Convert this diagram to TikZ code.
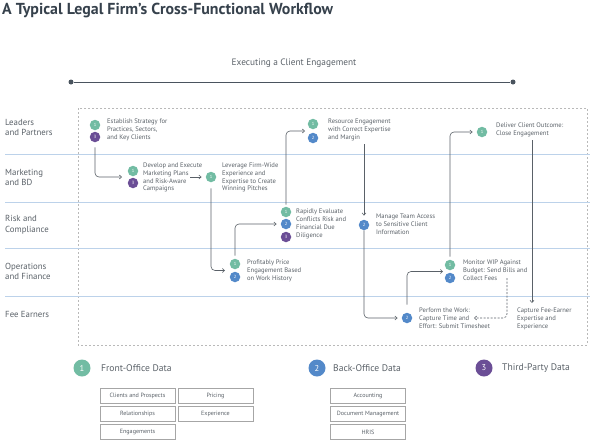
\documentclass[tikz,border=0pt]{standalone}
\usepackage{fontspec}
\setmainfont{PT Sans}
\usetikzlibrary{arrows.meta, positioning, calc}
\definecolor{frontgreen}{HTML}{72BCA3}
\definecolor{backblue}{HTML}{5389C9}
\definecolor{thirdpurple}{HTML}{6B4E96}
\definecolor{lanerule}{HTML}{BCD2EA}
\definecolor{inkgray}{HTML}{5A6168}
\definecolor{titleink}{HTML}{36414C}

\begin{document}
\begin{tikzpicture}[x=1pt, y=-1pt, every node/.style={font=\fontsize{6.6}{7.9}\selectfont, text=inkgray}]
\tikzstyle{badge} = [circle, inner sep=0pt, minimum size=10.5pt, text=white, font=\fontsize{4.5}{5}\selectfont]
\tikzstyle{stepbox} = [anchor=west, align=left, inner sep=0pt]
\tikzstyle{lane} = [anchor=west, align=left, inner sep=0pt, font=\fontsize{8.8}{10.8}\selectfont]
\tikzstyle{flow} = [-{Straight Barb[length=2.2pt, width=4pt]}, draw=inkgray, line width=0.6pt, rounded corners=4pt]
\tikzstyle{source} = [draw=gray!70, line width=0.8pt, minimum width=75pt, minimum height=15pt, inner sep=0pt, font=\fontsize{6.1}{7}\selectfont]
\tikzstyle{keybadge} = [circle, inner sep=0pt, minimum size=17pt, text=white, font=\fontsize{8.5}{9}\selectfont]
\tikzstyle{keytext} = [anchor=west, inner sep=0pt, font=\fontsize{9.6}{11}\selectfont]
\useasboundingbox (0,0) rectangle (594,440);

% Title and timeline
\node[anchor=base west, inner sep=0pt, text=titleink, font=\fontsize{15.9}{18}\selectfont\bfseries] (title) at (2,14) {A Typical Legal Firm’s Cross-Functional Workflow};
\node[inner sep=0pt, font=\fontsize{9.3}{10}\selectfont] (phase) at (294,63) {Executing a Client Engagement};
\node[circle, fill=titleink!90, inner sep=0pt, minimum size=5pt] (tstart) at (71,82) {};
\node[circle, fill=titleink!90, inner sep=0pt, minimum size=5pt] (tend) at (513,82) {};
\draw[titleink!90, line width=1pt] (tstart) -- (tend);

% Lanes
\draw[gray!55, line width=0.8pt, dash pattern=on 2pt off 2pt] (78,108) rectangle (587,345);
\foreach \y in {154,202,248,296}
  \draw[lanerule, line width=0.8pt] (5,\y) -- (590,\y);
\node[lane] (leaders) at (5,127.5) {Leaders\\and Partners};
\node[lane] (marketing) at (5,177.5) {Marketing\\and BD};
\node[lane] (risk) at (5,224.5) {Risk and\\Compliance};
\node[lane] (operations) at (5,271.5) {Operations\\and Finance};
\node[lane] (earners) at (5,314) {Fee Earners};

% Nodes
\node[badge, fill=frontgreen] (s1a) at (95,125) {1};
\node[badge, fill=thirdpurple] (s1b) at (95,137) {3};
\node[stepbox] (t1) at (107,130) {Establish Strategy for\\Practices, Sectors,\\and Key Clients};

\node[badge, fill=frontgreen] (s2a) at (133,171) {1};
\node[badge, fill=thirdpurple] (s2b) at (133,183) {3};
\node[stepbox] (t2) at (143,177.5) {Develop and Execute\\Marketing Plans\\and Risk-Aware\\Campaigns};

\node[badge, fill=frontgreen] (s3a) at (211,177) {1};
\node[stepbox] (t3) at (222,177.5) {Leverage Firm-Wide\\Experience and\\Expertise to Create\\Winning Pitches};

\node[badge, fill=frontgreen] (s4a) at (235,264) {1};
\node[badge, fill=backblue] (s4b) at (235,277) {2};
\node[stepbox] (t4) at (247,271) {Profitably Price\\Engagement Based\\on Work History};

\node[badge, fill=frontgreen] (s5a) at (286,212) {1};
\node[badge, fill=backblue] (s5b) at (286,224) {2};
\node[badge, fill=thirdpurple] (s5c) at (286,237) {3};
\node[stepbox] (t5) at (296,224) {Rapidly Evaluate\\Conflicts Risk and\\Financial Due\\Diligence};

\node[badge, fill=frontgreen] (s6a) at (313,124) {1};
\node[badge, fill=backblue] (s6b) at (313,138) {2};
\node[stepbox] (t6) at (328,130) {Resource Engagement\\with Correct Expertise\\and Margin};

\node[badge, fill=backblue] (s7) at (364,225) {2};
\node[stepbox] (t7) at (376,224) {Manage Team Access\\to Sensitive Client\\Information};

\node[badge, fill=backblue] (s8) at (407,318) {2};
\node[stepbox] (t8) at (419,318) {Perform the Work:\\Capture Time and\\Effort: Submit Timesheet};

\node[badge, fill=frontgreen] (s9a) at (450,265) {1};
\node[badge, fill=backblue] (s9b) at (450,278) {2};
\node[stepbox] (t9) at (463,270) {Monitor WIP Against\\Budget: Send Bills and\\Collect Fees};

\node[badge, fill=frontgreen] (s10) at (482,132) {1};
\node[stepbox] (t10) at (496,130) {Deliver Client Outcome:\\Close Engagement};

\node[stepbox] (t11) at (517,319) {Capture Fee-Earner\\Expertise and\\Experience};

% Arrow ends
\coordinate (in2) at ($(s2a)!0.5!(s2b)+(-11,0)$);
\coordinate (out2) at (190,177);
\coordinate (in4) at ($(s4a)!0.5!(s4b)+(-10,0)$);
\coordinate (in6) at ($(s6a)!0.5!(s6b)+(-8,0)$);
\coordinate (in9) at ($(s9a)!0.5!(s9b)+(-7,0)$);
\coordinate (out9) at (507,278);
\coordinate (in8) at (474,318);
\coordinate (out10) at (532,140);
\coordinate (in11) at (532,303);

% Arrows
\draw[flow, shorten <=5pt] (s1b.south) |- (in2);
\draw[flow, shorten >=4pt] (out2) -- (s3a.west);
\draw[flow, shorten <=6pt] (s3a.south) |- (in4);
\draw[flow, shorten <=3pt, shorten >=4pt] (s4a.north) |- (s5b.west);
\draw[flow, shorten <=2pt] (s5a.north) |- (in6);
\draw[flow, shorten <=3pt, shorten >=4pt] (s7 |- t6.south) -- (s7.north);
\draw[flow, shorten >=4pt] (s7.south) |- (s8.west);
\draw[flow, shorten <=8pt] (s8.north) |- (in9);
\draw[flow, dashed, dash pattern=on 2pt off 1.5pt] (out9) |- (in8);
\draw[flow, shorten <=3pt, shorten >=4pt] (s9a.north) |- (s10.west);
\draw[flow] (out10) -- (in11);

% Legend
\node[keybadge, fill=frontgreen] (k1) at (82,368) {1};
\node[keytext] (k1text) at (101,368) {Front-Office Data};
\node[keybadge, fill=backblue] (k2) at (317,368) {2};
\node[keytext] (k2text) at (333,368) {Back-Office Data};
\node[keybadge, fill=thirdpurple] (k3) at (484,368) {3};
\node[keytext] (k3text) at (502,368) {Third-Party Data};

\node[source] (clients) at (137.5,395.5) {Clients and Prospects};
\node[source] (pricing) at (215.5,395.5) {Pricing};
\node[source] (relations) at (137.5,414) {Relationships};
\node[source] (experience) at (215.5,414) {Experience};
\node[source] (engagements) at (137.5,432) {Engagements};
\node[source] (accounting) at (368,395.5) {Accounting};
\node[source] (documents) at (368,414) {Document Management};
\node[source] (hris) at (368,432) {HRIS};

\end{tikzpicture}
\end{document}
